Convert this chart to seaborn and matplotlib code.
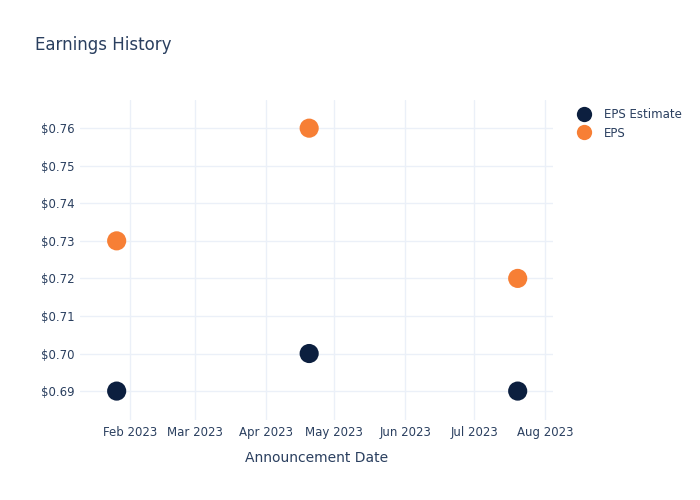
import matplotlib
matplotlib.use("Agg")
import matplotlib.pyplot as plt
import matplotlib.dates as mdates
from matplotlib.lines import Line2D
import seaborn as sns
import pandas as pd

dates = ["2023-01-26", "2023-04-20", "2023-07-20"]
eps_estimate = [0.69, 0.70, 0.69]
eps_actual = [0.73, 0.76, 0.72]
series_names = ["EPS Estimate", "EPS"]
colors = ["#0c1f3f", "#f77f35"]

df = pd.DataFrame({
    "date": pd.to_datetime(dates * 2),
    "value": eps_estimate + eps_actual,
    "series": [series_names[0]] * 3 + [series_names[1]] * 3,
})

sns.set_theme(style="white")
plt.rcParams['font.family'] = ['DejaVu Sans']
text_color = "#2a3f5f"

fig = plt.figure(figsize=(7, 5), dpi=100)
ax = fig.add_axes([0.1143, 0.16, 0.676, 0.64])
sns.scatterplot(data=df, x="date", y="value", hue="series", palette=colors,
                s=190, edgecolor="none", ax=ax, legend=False, zorder=3)

ax.set_xlim(pd.Timestamp("2023-01-10"), pd.Timestamp("2023-08-04 12:00"))
ax.set_ylim(0.6823, 0.7675)
ax.xaxis.set_major_locator(mdates.MonthLocator())
ax.xaxis.set_major_formatter(mdates.DateFormatter("%b %Y"))
ticks = [0.69, 0.70, 0.71, 0.72, 0.73, 0.74, 0.75, 0.76]
ax.set_yticks(ticks)
ax.set_yticklabels([f"${t:.2f}" for t in ticks])
ax.grid(True, color="#ebf0f8", linewidth=1)
ax.set_axisbelow(True)
for s in ax.spines.values():
    s.set_visible(False)
ax.tick_params(axis="both", colors=text_color, labelsize=8.5, length=0, pad=4)
ax.set_xlabel("Announcement Date", color=text_color, fontsize=10, labelpad=9)
ax.set_ylabel("")

fig.text(0.05, 0.911, "Earnings History", color=text_color, fontsize=12, va="center")

handles = [Line2D([0], [0], marker="o", linestyle="", markersize=11,
                  markerfacecolor=c, markeredgecolor="none") for c in colors]
leg = fig.legend(handles, series_names, loc="upper left", bbox_to_anchor=(0.81, 0.794),
                 frameon=False, fontsize=8.5, handletextpad=0.7, labelspacing=0.5,
                 borderaxespad=0)
for t in leg.get_texts():
    t.set_color(text_color)

fig.savefig("out.png", dpi=100)
